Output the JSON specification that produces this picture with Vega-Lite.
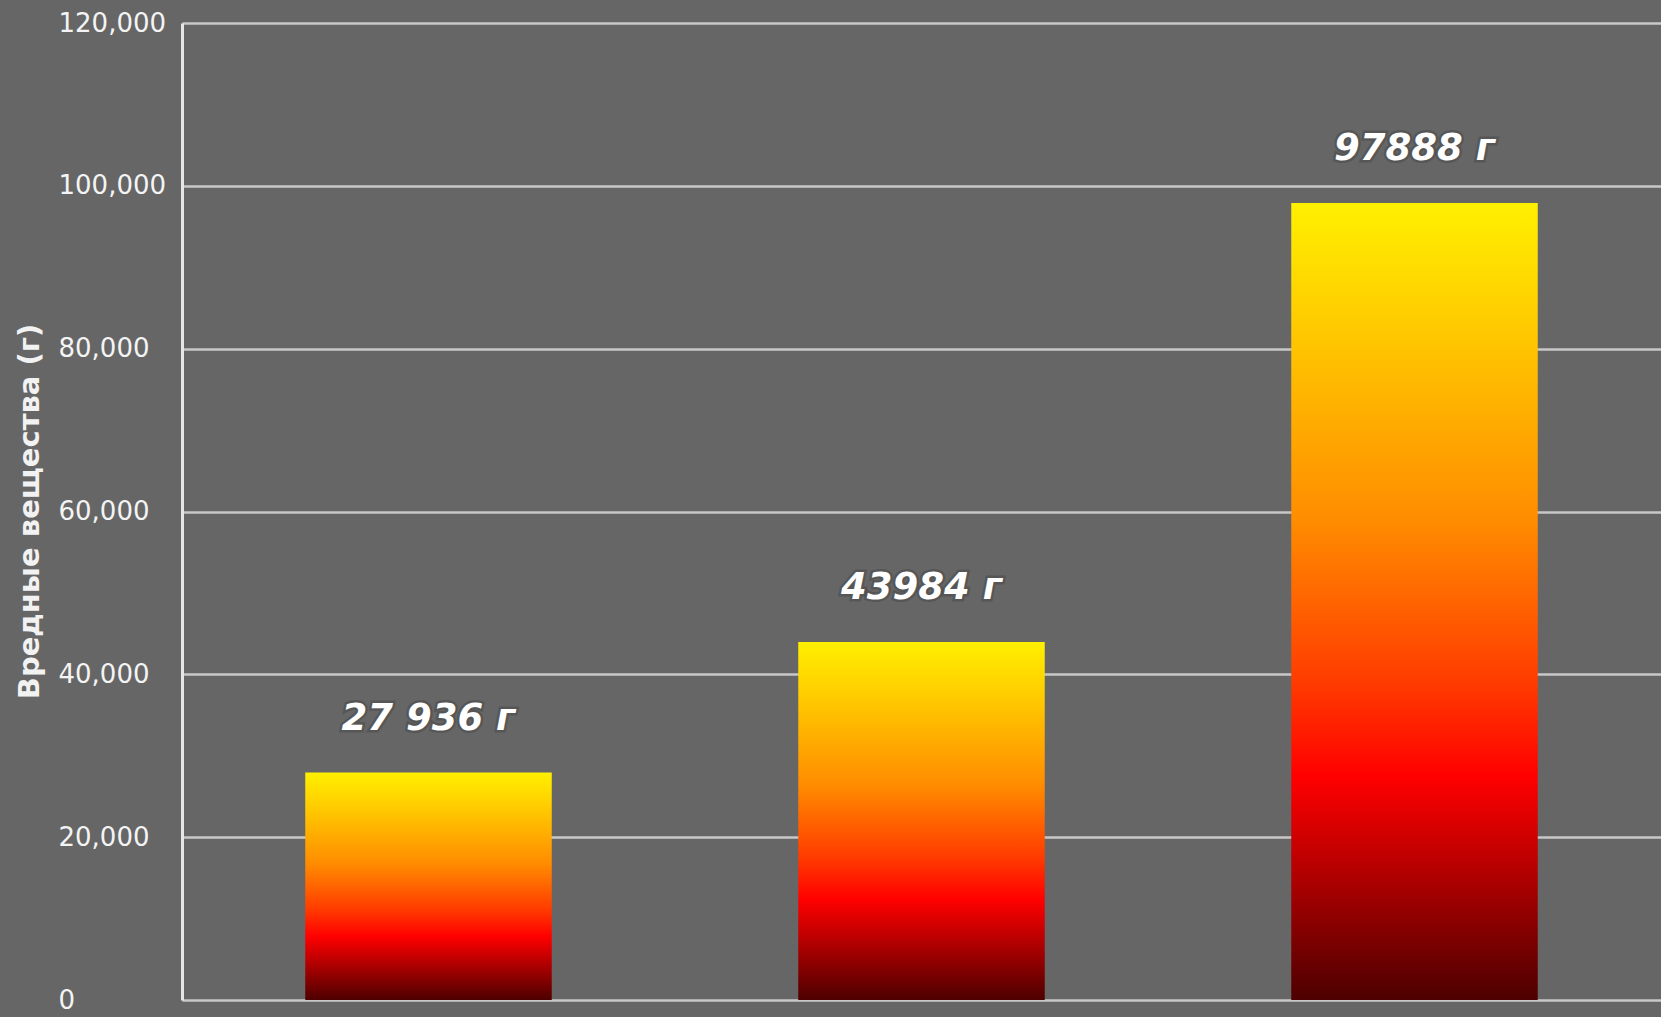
{
  "$schema": "https://vega.github.io/schema/vega-lite/v6.json",
  "width": 1479,
  "height": 977,
  "autosize": {"type": "none"},
  "padding": {"left": 182, "top": 23, "right": 0, "bottom": 17},
  "background": "#666666",
  "config": {
    "view": {"stroke": null},
    "font": "DejaVu Sans"
  },
  "data": {
    "values": [
      {"cat": "A", "value": 27936, "label": "27 936 г"},
      {"cat": "B", "value": 43984, "label": "43984 г"},
      {"cat": "C", "value": 97888, "label": "97888 г"}
    ]
  },
  "encoding": {
    "x": {"field": "cat", "type": "nominal", "axis": null, "sort": null,
          "scale": {"paddingInner": 0.5, "paddingOuter": 0.25}},
    "y": {"field": "value", "type": "quantitative",
          "scale": {"domain": [0, 120000], "nice": false},
          "axis": {
            "title": "Вредные вещества (г)",
            "titleFont": "DejaVu Sans",
            "titleFontWeight": "bold",
            "titleFontSize": 29,
            "titleColor": "#f2f2f2",
            "titleX": -153,
            "titleY": 488,
            "titleAngle": -90,
            "titleBaseline": "middle",
            "titleAlign": "center",
            "values": [0, 20000, 40000, 60000, 80000, 100000, 120000],
            "format": ",d",
            "ticks": false,
            "labelAlign": "left",
            "labelBaseline": "middle",
            "labelPadding": 124,
            "labelFontSize": 26,
            "labelFontWeight": "normal",
            "labelColor": "#f4f4f4",
            "labelFont": "DejaVu Sans",
            "grid": true,
            "gridColor": "#c8c8c8",
            "gridWidth": 2.5,
            "gridOpacity": 1,
            "domain": true,
            "domainColor": "#e6e6e6",
            "domainWidth": 3
          }}
  },
  "layer": [
    {
      "mark": {
        "type": "bar",
        "color": {
          "gradient": "linear",
          "x1": 0, "y1": 0, "x2": 0, "y2": 1,
          "stops": [
            {"offset": 0, "color": "#fff000"},
            {"offset": 0.15, "color": "#ffcc00"},
            {"offset": 0.4, "color": "#ff8c00"},
            {"offset": 0.6, "color": "#ff3c00"},
            {"offset": 0.72, "color": "#ff0000"},
            {"offset": 1, "color": "#4d0000"}
          ]
        }
      }
    },
    {
      "mark": {"type": "text", "baseline": "alphabetic", "dy": -43,
               "font": "DejaVu Sans", "fontSize": 37, "fontWeight": "bold", "fontStyle": "italic",
               "stroke": "#3a3a3a", "strokeWidth": 5, "strokeOpacity": 0.35, "fill": "#3a3a3a", "opacity": 1},
      "encoding": {"text": {"field": "label"}}
    },
    {
      "mark": {"type": "text", "baseline": "alphabetic", "dy": -43,
               "font": "DejaVu Sans", "fontSize": 37, "fontWeight": "bold", "fontStyle": "italic",
               "color": "#ffffff"},
      "encoding": {"text": {"field": "label"}}
    }
  ]
}
